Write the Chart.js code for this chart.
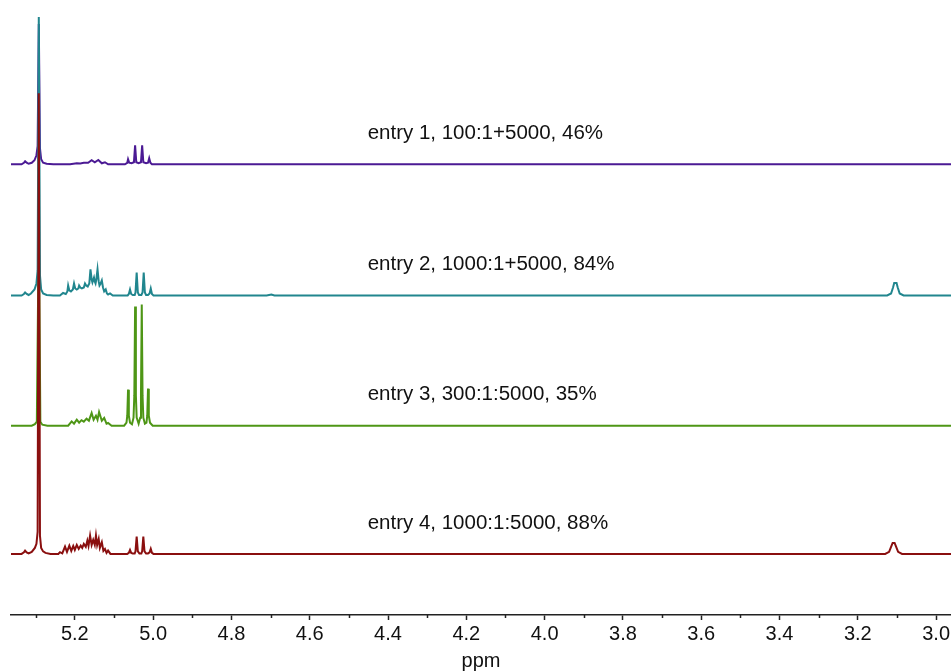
<!DOCTYPE html>
<html>
<head>
<meta charset="utf-8">
<title>NMR entries</title>
<script src="https://cdn.jsdelivr.net/npm/chart.js@4/dist/chart.umd.min.js"></script>
<style>
    body { margin: 0; background: #ffffff; }
    #chartHolder { display: block; }
</style>
</head>
<body>
<canvas id="chartHolder" width="952" height="671"></canvas>
<script>
const chartHolder = document.getElementById("chartHolder");

// tick labels (ppm) and minor ticks
const majorTicks = [5.2, 5.0, 4.8, 4.6, 4.4, 4.2, 4.0, 3.8, 3.6, 3.4, 3.2, 3.0];
const minorTicks = [5.3, 5.1, 4.9, 4.7, 4.5, 4.3, 4.1, 3.9, 3.7, 3.5, 3.3, 3.1];

const entryLabels = [
    "entry 1, 100:1+5000, 46%",
    "entry 2, 1000:1+5000, 84%",
    "entry 3, 300:1:5000, 35%",
    "entry 4, 1000:1:5000, 88%"
];

// spectra: [ppm, intensity above own baseline]
const entry1 = [
    [5.363, 0], [5.336, 0], [5.330, 1.5], [5.327, 3], [5.323, 1.5], [5.318, 0.5], [5.310, 1.5], [5.303, 4],
    [5.298, 9], [5.295, 18], [5.292, 140], [5.289, 16], [5.286, 5], [5.281, 1.5], [5.272, 0.5], [5.255, 0],
    [5.212, 0], [5.195, 1], [5.186, 0.8], [5.177, 1.5], [5.166, 1.5], [5.157, 4], [5.149, 2], [5.140, 4.3],
    [5.131, 1], [5.123, 2], [5.115, 0],
    [5.072, 0], [5.066, 1.5], [5.064, 5], [5.061, 1.5], [5.055, 1], [5.049, 2], [5.046, 19], [5.043, 2],
    [5.037, 1], [5.031, 2], [5.028, 19], [5.025, 2], [5.018, 1], [5.013, 1.5], [5.010, 6], [5.007, 1.5], [5.003, 0],
    [2.962, 0]
];

const entry2 = [
    [5.363, 0], [5.336, 0], [5.330, 1.5], [5.327, 3], [5.323, 1.5], [5.318, 0.5], [5.312, 2], [5.303, 6],
    [5.298, 12], [5.295, 25], [5.292, 278], [5.289, 20], [5.286, 6], [5.281, 2], [5.272, 0.5], [5.255, 0],
    [5.238, 0], [5.230, 2.5], [5.223, 1.5], [5.219, 4], [5.217, 10], [5.214, 5], [5.210, 4], [5.205, 6],
    [5.202, 12], [5.199, 7], [5.195, 6], [5.191, 7], [5.189, 10], [5.186, 8], [5.182, 7], [5.177, 8],
    [5.174, 12], [5.171, 10], [5.167, 9], [5.163, 12], [5.160, 26], [5.157, 16], [5.155, 13], [5.151, 18],
    [5.149, 14], [5.147, 12], [5.145, 16], [5.142, 26], [5.139, 14], [5.137, 10], [5.134, 12], [5.131, 15],
    [5.128, 8], [5.125, 4], [5.121, 6], [5.118, 2], [5.115, 1], [5.110, 2], [5.103, 0],
    [5.065, 0], [5.062, 1.5], [5.059, 6], [5.056, 1.5], [5.052, 0.5], [5.047, 0.5], [5.045, 3], [5.042, 23],
    [5.039, 3], [5.036, 0.5], [5.030, 0.5], [5.027, 3], [5.024, 23], [5.021, 3], [5.018, 0.5], [5.013, 0.5],
    [5.009, 2], [5.006, 7], [5.003, 1.5], [4.999, 0],
    [4.710, 0], [4.698, 1], [4.690, 0],
    [3.125, 0], [3.115, 2], [3.110, 8], [3.107, 12.5], [3.101, 12.5], [3.098, 8], [3.093, 2], [3.083, 0],
    [2.962, 0]
];

const entry3 = [
    [5.363, 0], [5.310, 0], [5.302, 1.5], [5.297, 4], [5.292, 200], [5.288, 4], [5.283, 1], [5.270, 0],
    [5.217, 0], [5.208, 4.3], [5.202, 2], [5.195, 6], [5.189, 3], [5.183, 5.5], [5.177, 4], [5.170, 7],
    [5.164, 5], [5.157, 12.7], [5.152, 6], [5.146, 10], [5.142, 6], [5.138, 13.7], [5.131, 5], [5.125, 7.7],
    [5.119, 2], [5.115, 2.7], [5.106, 0],
    [5.074, 0], [5.068, 3], [5.066, 10], [5.064, 36], [5.062, 10], [5.059, 3], [5.054, 1.5], [5.050, 8],
    [5.048, 30], [5.046, 119], [5.044, 30], [5.042, 8], [5.037, 2], [5.033, 8], [5.031, 30], [5.029, 121],
    [5.027, 30], [5.025, 8], [5.021, 2], [5.017, 3], [5.015, 10], [5.013, 37], [5.011, 10], [5.008, 3], [5.001, 0],
    [2.962, 0]
];

const entry4 = [
    [5.363, 0], [5.336, 0], [5.330, 1.5], [5.327, 3.3], [5.323, 1.5], [5.318, 0.5], [5.310, 2], [5.302, 6],
    [5.298, 10], [5.295, 22], [5.292, 460], [5.289, 18], [5.286, 6], [5.281, 2.5], [5.275, 1], [5.262, 0],
    [5.242, 0], [5.238, 1.7], [5.232, 0.5], [5.225, 7.3], [5.220, 2], [5.214, 8.3], [5.209, 3], [5.204, 8],
    [5.200, 4], [5.195, 9], [5.190, 5], [5.185, 8.3], [5.181, 6], [5.177, 10], [5.172, 7], [5.168, 13.3],
    [5.165, 8], [5.161, 18.3], [5.157, 9], [5.153, 14], [5.149, 9], [5.146, 18.3], [5.143, 9], [5.139, 15],
    [5.136, 6], [5.131, 11.7], [5.127, 3], [5.123, 5], [5.119, 1], [5.115, 3.3], [5.109, 0],
    [5.066, 0], [5.062, 1], [5.059, 4], [5.056, 1], [5.052, 0.5], [5.047, 0.5], [5.045, 2.5], [5.042, 17.3],
    [5.039, 2.5], [5.035, 0.5], [5.030, 0.5], [5.028, 2.5], [5.025, 17.3], [5.022, 2.5], [5.018, 0.5], [5.013, 0.5],
    [5.009, 1.5], [5.006, 5], [5.003, 1], [4.999, 0],
    [3.130, 0], [3.120, 2], [3.114, 8], [3.111, 11], [3.106, 11], [3.103, 8], [3.097, 2], [3.087, 0],
    [2.962, 0]
];

const spectra = [entry1, entry2, entry3, entry4];

// stacking: vertical offset of each trace and which one sits on top
const offsets = [450, 319, 189, 61];
const drawOrder = [3, 1, 2, 0];
const colors = ["#4B1A94", "#21868E", "#4E9616", "#8A0F0F"];
const labelPpm = 4.452;
const labelRise = 31;

const fontFamily = "'Liberation Sans', Arial, sans-serif";

function createDataset(spectrum, index)
{
    const chartData = spectrum.map(p => ({x: p[0], y: p[1] + offsets[index]}));

    return {
        label: entryLabels[index],
        data: chartData,
        showLine: true,
        borderColor: colors[index],
        borderWidth: 2,
        pointRadius: 0,
        order: drawOrder[index]
    };
}

const minorTickPlugin = {
    id: "minorTicks",
    afterDraw(chart)
    {
        const ctx = chart.ctx;
        const xScale = chart.scales.x;
        const bottom = chart.chartArea.bottom;
        ctx.save();
        ctx.strokeStyle = "#222";
        ctx.lineWidth = 1.5;
        minorTicks.forEach(v =>
        {
            const px = Math.round(xScale.getPixelForValue(v)) + 0.5;
            ctx.beginPath();
            ctx.moveTo(px, bottom);
            ctx.lineTo(px, bottom + 3);
            ctx.stroke();
        });
        ctx.restore();
    }
};

const entryLabelPlugin = {
    id: "entryLabels",
    afterDatasetsDraw(chart)
    {
        const ctx = chart.ctx;
        const xScale = chart.scales.x;
        const yScale = chart.scales.y;
        ctx.save();
        ctx.font = "20.5px " + fontFamily;
        ctx.fillStyle = "#111";
        ctx.textAlign = "left";
        ctx.textBaseline = "middle";
        entryLabels.forEach((text, i) =>
        {
            ctx.fillText(text, xScale.getPixelForValue(labelPpm), yScale.getPixelForValue(offsets[i] + labelRise));
        });
        ctx.restore();
    }
};

new Chart(chartHolder, {
    type: "scatter",
    data: {
        datasets: spectra.map((s, i) => createDataset(s, i))
    },
    options: {
        responsive: false,
        animation: false,
        layout: {
            padding: {left: 11, right: 0, top: 0, bottom: 0}
        },
        plugins: {
            legend: {display: false},
            tooltip: {enabled: false}
        },
        scales: {
            x: {
                type: "linear",
                reverse: true,
                min: 2.962,
                max: 5.363,
                afterBuildTicks: scale =>
                {
                    scale.ticks = majorTicks.map(v => ({value: v}));
                },
                grid: {
                    drawOnChartArea: false,
                    drawTicks: true,
                    tickLength: 5,
                    tickWidth: 1.5,
                    tickColor: "#222"
                },
                border: {
                    display: true,
                    color: "#222",
                    width: 1.5
                },
                ticks: {
                    padding: 2,
                    color: "#111",
                    maxRotation: 0,
                    autoSkip: false,
                    font: {family: fontFamily, size: 20, lineHeight: 1.2},
                    callback: value => Number(value).toFixed(1)
                },
                title: {
                    display: true,
                    text: "ppm",
                    color: "#111",
                    padding: {top: 3, bottom: 0},
                    font: {family: fontFamily, size: 20, lineHeight: 1.0}
                }
            },
            y: {
                display: false,
                min: 0,
                max: 614
            }
        }
    },
    plugins: [minorTickPlugin, entryLabelPlugin]
});
</script>
</body>
</html>
